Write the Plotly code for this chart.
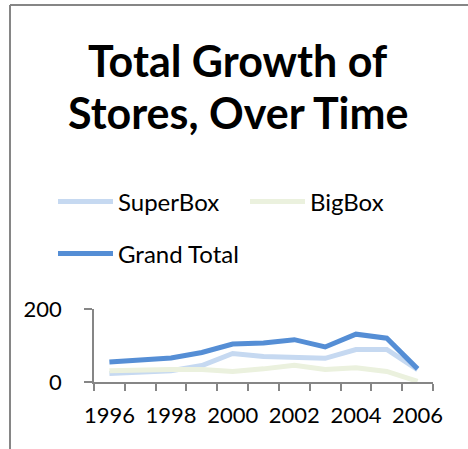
import plotly.graph_objects as go

years = [1996, 1997, 1998, 1999, 2000, 2001, 2002, 2003, 2004, 2005, 2006]
superbox = [23, 26, 31, 45, 78, 70, 68, 65, 89, 89, 34]
bigbox = [31, 34, 34, 34, 29, 36, 46, 34, 39, 29, 2]
grand_total = [55, 61, 66, 81, 104, 107, 116, 96, 131, 120, 36]
tick_years = [1996, 1998, 2000, 2002, 2004, 2006]
title_lines = ["Total Growth of", "Stores, Over Time"]

FONT = "Lato"
fig = go.Figure()
fig.add_trace(go.Scatter(x=years, y=superbox, name="SuperBox", mode="lines",
                         line=dict(color="#C6D9F1", width=5), legend="legend"))
fig.add_trace(go.Scatter(x=years, y=bigbox, name="BigBox", mode="lines",
                         line=dict(color="#EBF1DE", width=5), legend="legend"))
fig.add_trace(go.Scatter(x=years, y=grand_total, name="Grand Total", mode="lines",
                         line=dict(color="#558ED5", width=5), legend="legend2"))

L, R, T, B = 94, 35, 309, 67
W, H = 468, 449
pw, ph = W - L - R, H - T - B

def px(xp):
    return (xp - L) / pw

def py(yp):
    return (H - B - yp) / ph

leg_common = dict(orientation="h", xanchor="left", yanchor="middle",
                  itemwidth=55, font=dict(size=24), bgcolor="rgba(0,0,0,0)",
                  borderwidth=0)

title_ann = [dict(text="<b>%s</b>" % t, xref="paper", yref="paper",
                  x=px(238), y=py(yc), xanchor="center", yanchor="middle",
                  showarrow=False, font=dict(family=FONT, size=43, color="black"))
             for t, yc in zip(title_lines, [61, 112])]

fig.update_layout(
    width=W, height=H,
    margin=dict(l=L, r=R, t=T, b=B, pad=0),
    paper_bgcolor="white", plot_bgcolor="white",
    font=dict(family=FONT, size=21, color="black"),
    showlegend=True,
    legend=dict(x=px(53), y=py(202), entrywidth=122, entrywidthmode="pixels",
                **leg_common),
    legend2=dict(x=px(53), y=py(254), **leg_common),
    xaxis=dict(range=[1995.5, 2006.5], tickvals=tick_years, ticks="",
               showline=True, linecolor="#868686", linewidth=1.5,
               showgrid=False, zeroline=False,
               minor=dict(tick0=1995.5, dtick=1, ticks="outside", ticklen=7,
                          tickcolor="#868686", tickwidth=1.5, showgrid=False),
               tickfont=dict(size=22), ticklabelstandoff=13),
    yaxis=dict(range=[0, 200], tickvals=[0, 200], ticks="outside", ticklen=8,
               tickcolor="#868686", tickwidth=1.5,
               showline=True, linecolor="#868686", linewidth=1.5,
               showgrid=False, zeroline=False, tickfont=dict(size=22),
               ticklabelstandoff=18),
    annotations=title_ann,
    shapes=[
        dict(type="line", xref="paper", yref="paper", x0=px(10), x1=px(470),
             y0=py(5), y1=py(5), line=dict(color="#868686", width=2)),
        dict(type="line", xref="paper", yref="paper", x0=px(10), x1=px(10),
             y0=py(5), y1=py(455), line=dict(color="#868686", width=2)),
    ],
)

fig.write_html("out.html")
